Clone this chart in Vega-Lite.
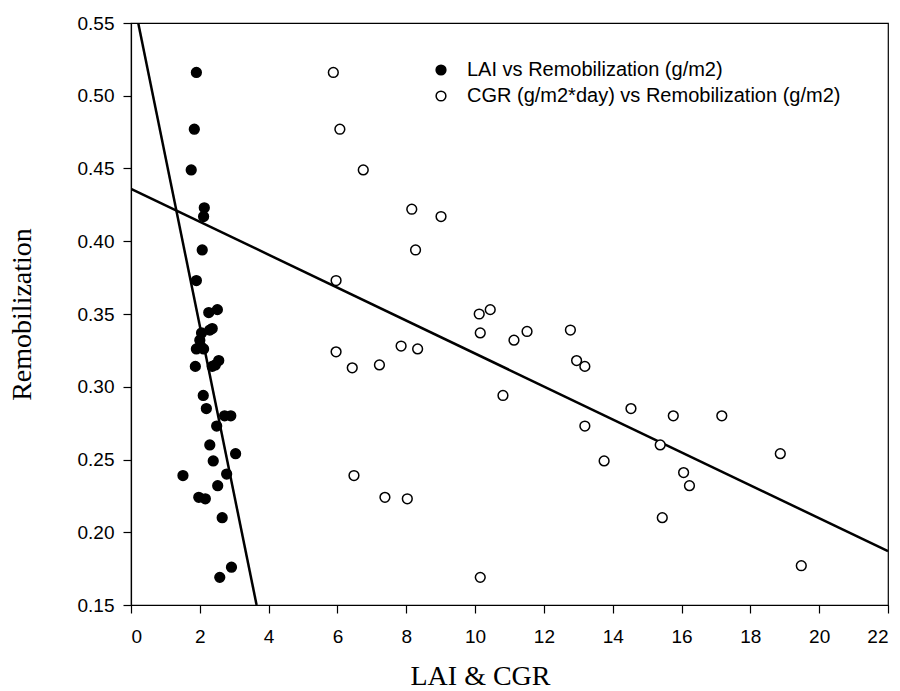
{
  "$schema": "https://vega.github.io/schema/vega-lite/v6.json",
  "autosize": "none",
  "width": 757,
  "height": 582,
  "padding": {"left": 131, "top": 23, "right": 12, "bottom": 86},
  "background": "white",
  "config": {
    "view": {"stroke": "black", "strokeWidth": 1.2},
    "axis": {
      "domainColor": "black",
      "domainWidth": 1.2,
      "tickColor": "black",
      "tickWidth": 1.2,
      "tickSize": 8,
      "grid": false,
      "labelFont": "Liberation Sans",
      "labelFontSize": 19,
      "labelColor": "black",
      "titleFont": "Liberation Serif",
      "titleFontSize": 28,
      "titleFontWeight": "normal",
      "titleColor": "black"
    }
  },
  "datasets": {
    "pts": [
      {"series": "LAI vs Remobilization (g/m2)", "x": 1.90, "y": 0.516},
      {"series": "LAI vs Remobilization (g/m2)", "x": 1.84, "y": 0.477},
      {"series": "LAI vs Remobilization (g/m2)", "x": 1.75, "y": 0.449},
      {"series": "LAI vs Remobilization (g/m2)", "x": 2.13, "y": 0.423},
      {"series": "LAI vs Remobilization (g/m2)", "x": 2.11, "y": 0.417},
      {"series": "LAI vs Remobilization (g/m2)", "x": 2.07, "y": 0.394},
      {"series": "LAI vs Remobilization (g/m2)", "x": 1.90, "y": 0.373},
      {"series": "LAI vs Remobilization (g/m2)", "x": 2.26, "y": 0.351},
      {"series": "LAI vs Remobilization (g/m2)", "x": 2.51, "y": 0.353},
      {"series": "LAI vs Remobilization (g/m2)", "x": 2.29, "y": 0.339},
      {"series": "LAI vs Remobilization (g/m2)", "x": 2.36, "y": 0.340},
      {"series": "LAI vs Remobilization (g/m2)", "x": 2.00, "y": 0.332},
      {"series": "LAI vs Remobilization (g/m2)", "x": 2.05, "y": 0.337},
      {"series": "LAI vs Remobilization (g/m2)", "x": 1.90, "y": 0.326},
      {"series": "LAI vs Remobilization (g/m2)", "x": 2.11, "y": 0.326},
      {"series": "LAI vs Remobilization (g/m2)", "x": 2.02, "y": 0.328},
      {"series": "LAI vs Remobilization (g/m2)", "x": 1.87, "y": 0.314},
      {"series": "LAI vs Remobilization (g/m2)", "x": 2.36, "y": 0.314},
      {"series": "LAI vs Remobilization (g/m2)", "x": 2.55, "y": 0.318},
      {"series": "LAI vs Remobilization (g/m2)", "x": 2.45, "y": 0.315},
      {"series": "LAI vs Remobilization (g/m2)", "x": 2.10, "y": 0.294},
      {"series": "LAI vs Remobilization (g/m2)", "x": 2.19, "y": 0.285},
      {"series": "LAI vs Remobilization (g/m2)", "x": 2.72, "y": 0.280},
      {"series": "LAI vs Remobilization (g/m2)", "x": 2.90, "y": 0.280},
      {"series": "LAI vs Remobilization (g/m2)", "x": 2.49, "y": 0.273},
      {"series": "LAI vs Remobilization (g/m2)", "x": 2.29, "y": 0.260},
      {"series": "LAI vs Remobilization (g/m2)", "x": 3.04, "y": 0.254},
      {"series": "LAI vs Remobilization (g/m2)", "x": 2.39, "y": 0.249},
      {"series": "LAI vs Remobilization (g/m2)", "x": 2.78, "y": 0.240},
      {"series": "LAI vs Remobilization (g/m2)", "x": 1.51, "y": 0.239},
      {"series": "LAI vs Remobilization (g/m2)", "x": 2.52, "y": 0.232},
      {"series": "LAI vs Remobilization (g/m2)", "x": 1.97, "y": 0.224},
      {"series": "LAI vs Remobilization (g/m2)", "x": 2.16, "y": 0.223},
      {"series": "LAI vs Remobilization (g/m2)", "x": 2.65, "y": 0.210},
      {"series": "LAI vs Remobilization (g/m2)", "x": 2.92, "y": 0.176},
      {"series": "LAI vs Remobilization (g/m2)", "x": 2.58, "y": 0.169},
      {"series": "CGR (g/m2*day) vs Remobilization (g/m2)", "x": 5.88, "y": 0.516},
      {"series": "CGR (g/m2*day) vs Remobilization (g/m2)", "x": 6.07, "y": 0.477},
      {"series": "CGR (g/m2*day) vs Remobilization (g/m2)", "x": 6.75, "y": 0.449},
      {"series": "CGR (g/m2*day) vs Remobilization (g/m2)", "x": 8.16, "y": 0.422},
      {"series": "CGR (g/m2*day) vs Remobilization (g/m2)", "x": 9.01, "y": 0.417},
      {"series": "CGR (g/m2*day) vs Remobilization (g/m2)", "x": 8.27, "y": 0.394},
      {"series": "CGR (g/m2*day) vs Remobilization (g/m2)", "x": 5.96, "y": 0.373},
      {"series": "CGR (g/m2*day) vs Remobilization (g/m2)", "x": 10.12, "y": 0.350},
      {"series": "CGR (g/m2*day) vs Remobilization (g/m2)", "x": 10.44, "y": 0.353},
      {"series": "CGR (g/m2*day) vs Remobilization (g/m2)", "x": 10.15, "y": 0.337},
      {"series": "CGR (g/m2*day) vs Remobilization (g/m2)", "x": 11.13, "y": 0.332},
      {"series": "CGR (g/m2*day) vs Remobilization (g/m2)", "x": 11.51, "y": 0.338},
      {"series": "CGR (g/m2*day) vs Remobilization (g/m2)", "x": 12.77, "y": 0.339},
      {"series": "CGR (g/m2*day) vs Remobilization (g/m2)", "x": 12.95, "y": 0.318},
      {"series": "CGR (g/m2*day) vs Remobilization (g/m2)", "x": 13.19, "y": 0.314},
      {"series": "CGR (g/m2*day) vs Remobilization (g/m2)", "x": 5.96, "y": 0.324},
      {"series": "CGR (g/m2*day) vs Remobilization (g/m2)", "x": 6.43, "y": 0.313},
      {"series": "CGR (g/m2*day) vs Remobilization (g/m2)", "x": 7.22, "y": 0.315},
      {"series": "CGR (g/m2*day) vs Remobilization (g/m2)", "x": 7.85, "y": 0.328},
      {"series": "CGR (g/m2*day) vs Remobilization (g/m2)", "x": 8.33, "y": 0.326},
      {"series": "CGR (g/m2*day) vs Remobilization (g/m2)", "x": 10.81, "y": 0.294},
      {"series": "CGR (g/m2*day) vs Remobilization (g/m2)", "x": 13.19, "y": 0.273},
      {"series": "CGR (g/m2*day) vs Remobilization (g/m2)", "x": 6.48, "y": 0.239},
      {"series": "CGR (g/m2*day) vs Remobilization (g/m2)", "x": 7.38, "y": 0.224},
      {"series": "CGR (g/m2*day) vs Remobilization (g/m2)", "x": 8.03, "y": 0.223},
      {"series": "CGR (g/m2*day) vs Remobilization (g/m2)", "x": 10.15, "y": 0.169},
      {"series": "CGR (g/m2*day) vs Remobilization (g/m2)", "x": 14.53, "y": 0.285},
      {"series": "CGR (g/m2*day) vs Remobilization (g/m2)", "x": 15.76, "y": 0.280},
      {"series": "CGR (g/m2*day) vs Remobilization (g/m2)", "x": 17.17, "y": 0.280},
      {"series": "CGR (g/m2*day) vs Remobilization (g/m2)", "x": 13.75, "y": 0.249},
      {"series": "CGR (g/m2*day) vs Remobilization (g/m2)", "x": 15.38, "y": 0.260},
      {"series": "CGR (g/m2*day) vs Remobilization (g/m2)", "x": 16.06, "y": 0.241},
      {"series": "CGR (g/m2*day) vs Remobilization (g/m2)", "x": 16.23, "y": 0.232},
      {"series": "CGR (g/m2*day) vs Remobilization (g/m2)", "x": 18.87, "y": 0.254},
      {"series": "CGR (g/m2*day) vs Remobilization (g/m2)", "x": 15.44, "y": 0.210},
      {"series": "CGR (g/m2*day) vs Remobilization (g/m2)", "x": 19.48, "y": 0.177}
    ],
    "fits": [
      {"line": "LAI", "x": 0.21, "y": 0.55},
      {"line": "LAI", "x": 3.65, "y": 0.15},
      {"line": "CGR", "x": 0, "y": 0.436},
      {"line": "CGR", "x": 22, "y": 0.187}
    ]
  },
  "layer": [
    {
      "data": {"name": "fits"},
      "mark": {"type": "line", "color": "black", "strokeWidth": 2.5, "clip": true},
      "encoding": {
        "x": {"field": "x", "type": "quantitative"},
        "y": {"field": "y", "type": "quantitative"},
        "detail": {"field": "line"}
      }
    },
    {
      "data": {"name": "pts"},
      "mark": {"type": "point", "filled": true, "stroke": "black", "strokeWidth": 1.5, "size": 95, "opacity": 1},
      "encoding": {
        "x": {
          "field": "x", "type": "quantitative",
          "scale": {"domain": [0, 22], "nice": false, "zero": false},
          "axis": {
            "values": [0, 2, 4, 6, 8, 10, 12, 14, 16, 18, 20, 22],
            "labelPadding": 14,
            "title": "LAI & CGR",
            "titleX": 349,
            "titleY": 79,
            "titleAlign": "center",
            "titleBaseline": "alphabetic"
          }
        },
        "y": {
          "field": "y", "type": "quantitative",
          "scale": {"domain": [0.15, 0.55], "nice": false, "zero": false},
          "axis": {
            "values": [0.15, 0.2, 0.25, 0.3, 0.35, 0.4, 0.45, 0.5, 0.55],
            "format": ".2f",
            "labelPadding": 9,
            "title": "Remobilization",
            "titleX": -109,
            "titleY": 291,
            "titleAngle": -90,
            "titleAlign": "center",
            "titleBaseline": "middle"
          }
        },
        "fill": {
          "field": "series", "type": "nominal",
          "scale": {
            "domain": ["LAI vs Remobilization (g/m2)", "CGR (g/m2*day) vs Remobilization (g/m2)"],
            "range": ["black", "white"]
          },
          "legend": {
            "title": null,
            "orient": "none",
            "legendX": 300,
            "legendY": 37,
            "padding": 0,
            "symbolType": "circle",
            "symbolSize": 95,
            "symbolStrokeColor": "black",
            "symbolStrokeWidth": 1.5,
            "symbolOpacity": 1,
            "labelFont": "Liberation Sans",
            "labelFontSize": 20,
            "labelColor": "black",
            "labelOffset": 16,
            "labelLimit": 600,
            "rowPadding": 6
          }
        }
      }
    }
  ]
}
